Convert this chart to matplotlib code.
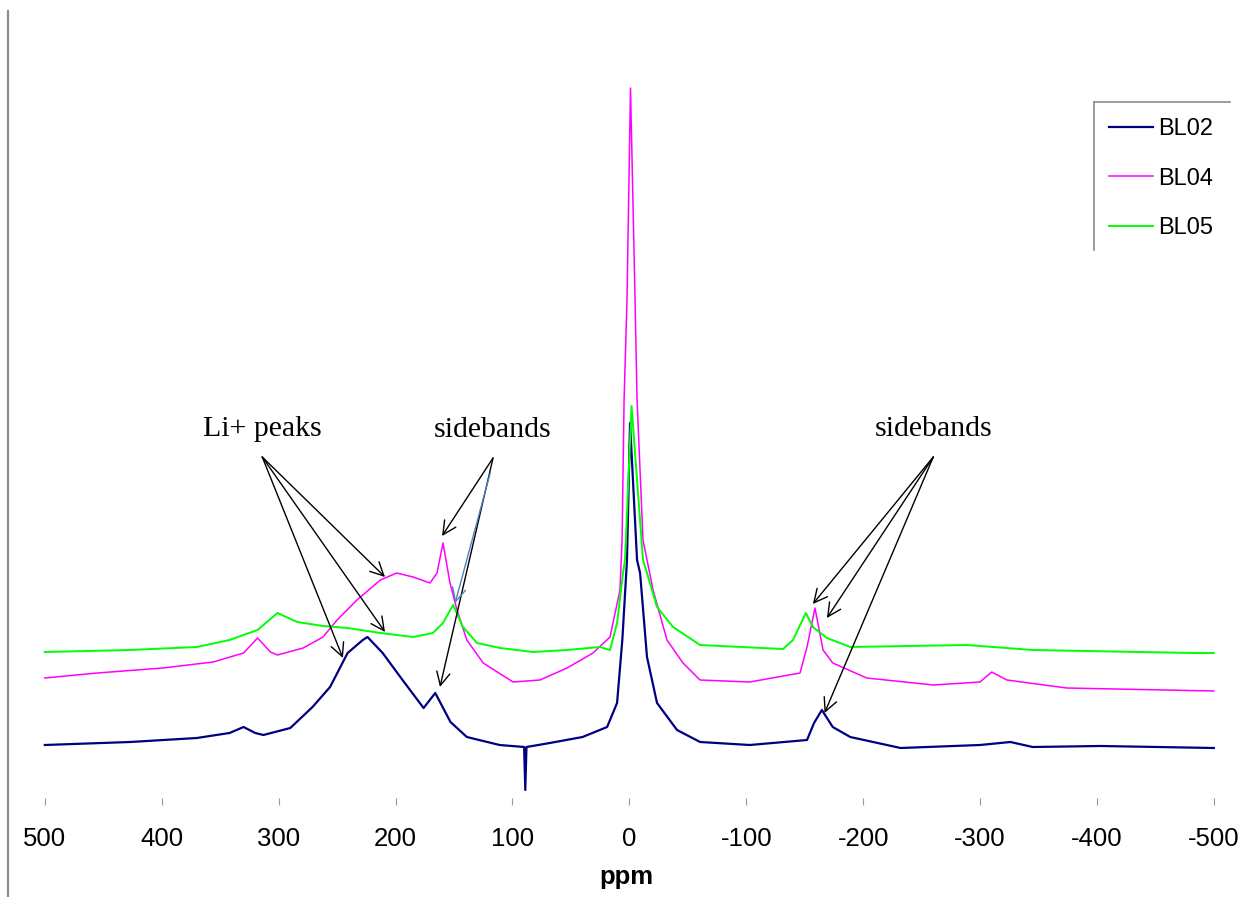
import matplotlib
matplotlib.use("Agg")
import matplotlib.pyplot as plt
from matplotlib.lines import Line2D

# chemical shift (ppm) and intensity (arbitrary units)
bl02_ppm = [500, 427, 370, 342, 330, 320, 313, 290, 271, 256, 241, 228, 224, 211,
            194, 176, 166, 153, 139, 111, 90, 89, 88, 68, 40, 19, 10.5, 6, 2, -0.6,
            -6.6, -9.2, -15.1, -23.7, -40.8, -60.5, -103, -152, -158, -164.7, -174,
            -189, -232, -300, -326, -345, -403, -500]
bl02_int = [53, 56, 60, 65, 71, 65, 63, 70, 91, 111, 145, 158, 161, 145,
            118, 90, 105, 76, 61, 53, 51, 8, 51, 55, 61, 71, 95, 158, 238, 375,
            238, 225, 141, 95, 68, 56, 53, 58, 75, 88, 71,
            61, 50, 53, 56, 51, 52, 50]

bl04_ppm = [500, 455, 399, 356, 330, 318, 307, 301, 279, 262, 250, 233, 213, 199,
            185, 170.5, 164.5, 159.4, 153.4, 147.4, 139, 125, 99.5, 76.4, 53.3, 31.1,
            16.5, 8, 6.2, 4.5, 2, -1, -4.9, -6.6, -11.7, -20.3, -32.2, -45.9, -60.5,
            -103, -146, -152, -158.8, -165.7, -174, -203, -260, -300, -310, -323,
            -374, -500]
bl04_int = [120, 125, 130, 136, 145, 160, 146, 143, 150, 161, 178, 198, 218, 225,
            221, 215, 225, 255, 215, 188, 158, 135, 116, 118, 130, 145,
            161, 208, 258, 398, 498, 710, 498, 398, 258, 208, 158, 135, 118,
            116, 125, 151, 190, 148, 135, 120, 113, 116, 126, 118,
            110, 107]

bl05_ppm = [500, 427, 370, 342, 318, 301, 284, 262, 241, 213, 185, 168, 159.4, 150.8,
            142.3, 130.3, 110.6, 82.4, 53.3, 25.1, 16.5, 10.5, 5.4, 3.7, -1.9, -11.7,
            -15.1, -23.7, -37.4, -60.5, -131.5, -140, -151, -157, -169, -189, -289,
            -345, -482, -500]
bl05_int = [146, 148, 151, 158, 168, 185, 176, 172, 170, 165, 161, 165, 175, 193,
            171, 155, 150, 146, 148, 151, 148, 175, 225, 238, 392, 238,
            225, 191, 171, 153, 149, 158, 185, 171, 160, 151, 153,
            148, 145, 145]

series_names = ["BL02", "BL04", "BL05"]
series_colors = ["#000080", "#ff00ff", "#00ff00"]

x_ticks = [500, 400, 300, 200, 100, 0, -100, -200, -300, -400, -500]

# annotation points (ppm, intensity): label position and arrow heads
li_label = (314, 369)
li_heads = [(209, 221), (209, 166), (245, 140)]
sb_left_label = (116.6, 368)
sb_left_heads = [(160.2, 262), (162, 111)]
sb_left_blue = ((119, 325), (149, 195))
sb_right_label = (-260, 369)
sb_right_heads = [(-157, 194), (-169, 180), (-167, 85)]

W, H = 1244, 897
fig = plt.figure(figsize=(W / 100, H / 100), dpi=100)
ax = fig.add_axes([8 / W, (H - 798) / H, 1 - 8 / W, 788 / H])

ax.plot(bl02_ppm, bl02_int, color=series_colors[0], lw=1.6, label=series_names[0])
ax.plot(bl04_ppm, bl04_int, color=series_colors[1], lw=1.1, label=series_names[1])
ax.plot(bl05_ppm, bl05_int, color=series_colors[2], lw=1.4, label=series_names[2])

ax.set_xlim(531.5, -525.8)
ax.set_ylim(0, 788)
for s in ax.spines.values():
    s.set_visible(False)
ax.set_yticks([])
ax.set_xticks(x_ticks)
ax.set_xticklabels([str(t) for t in x_ticks], family="Liberation Sans", fontsize=18.5)
ax.tick_params(axis="x", direction="out", length=5, width=0.8, color="#999999", pad=16)
ax.set_xlabel("ppm", family="Liberation Sans", fontsize=18.5, fontweight="bold", labelpad=10)

# left border line
fig.add_artist(Line2D([8 / W, 8 / W], [0, 1 - 11 / H], color="#8c8c8c", lw=1.6))

# annotations
tkw = dict(family="Liberation Serif", fontsize=21.5, ha="center", va="center")
akw = dict(arrowstyle="->", color="black", lw=1.0, mutation_scale=24, shrinkA=0, shrinkB=0)


def arrows(label, heads, text, tail_dy=-28):
    ax.text(label[0], label[1], text, **tkw)
    tail = (label[0], label[1] + tail_dy)
    for h in heads:
        ax.annotate("", xy=h, xytext=tail, arrowprops=akw)


arrows(li_label, li_heads, "Li+ peaks")
arrows(sb_left_label, sb_left_heads, "sidebands")
arrows(sb_right_label, sb_right_heads, "sidebands")
ax.annotate("", xy=sb_left_blue[1], xytext=sb_left_blue[0],
            arrowprops=dict(akw, color="#4f81bd"))

# legend with only top and left border
leg = ax.legend(loc="upper left", bbox_to_anchor=(1109 / W, 1 - 118 / H),
                bbox_transform=fig.transFigure, frameon=False, borderpad=0,
                borderaxespad=0, handlelength=1.87, handletextpad=0.2,
                labelspacing=1.17, prop={"family": "Liberation Sans", "size": 17})
fig.add_artist(Line2D([1094 / W, 1230 / W], [1 - 102 / H, 1 - 102 / H], color="#8c8c8c", lw=1.2))
fig.add_artist(Line2D([1094 / W, 1094 / W], [1 - 102 / H, 1 - 250 / H], color="#8c8c8c", lw=1.2))

fig.savefig("out.png", dpi=100)
